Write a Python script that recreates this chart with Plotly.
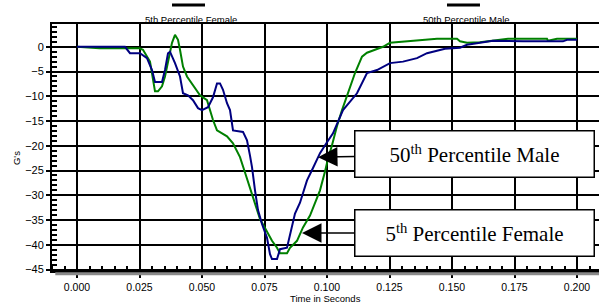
import plotly.graph_objects as go

# ---- data ----
time_female = [0.000, 0.009, 0.025, 0.0264, 0.0292, 0.0304, 0.0312, 0.0324, 0.034, 0.0352, 0.0364,
               0.038, 0.0392, 0.0404, 0.0412, 0.0424, 0.044, 0.046, 0.048, 0.0492, 0.052, 0.0532,
               0.0544, 0.056, 0.058, 0.060, 0.0624, 0.0652, 0.0672, 0.0692, 0.0712, 0.0732, 0.0752,
               0.078, 0.080, 0.0812, 0.084, 0.0852, 0.088, 0.0904, 0.0932, 0.0956, 0.0972, 0.0992,
               0.1004, 0.102, 0.104, 0.106, 0.1084, 0.1112, 0.114, 0.116, 0.1192, 0.1224, 0.1252,
               0.1292, 0.1372, 0.144, 0.152, 0.1532, 0.156, 0.1612, 0.1724, 0.188, 0.1884, 0.192, 0.200]
g_female = [0.0, -0.3, -0.3, -0.6, -3.0, -6.7, -9.0, -9.0, -8.0, -6.0, -3.3,
            0.8, 2.4, 1.4, -0.6, -4.0, -6.0, -7.4, -9.0, -9.8, -10.8, -13.0,
            -14.8, -16.9, -17.5, -18.1, -19.5, -22.3, -25.4, -28.4, -31.8, -34.8, -36.6,
            -39.2, -40.6, -41.7, -41.7, -40.6, -39.2, -36.5, -34.1, -31.0, -29.0, -25.2,
            -22.6, -19.9, -16.0, -12.8, -9.4, -5.3, -2.0, -1.2, -0.6, 0.0, 0.8,
            1.0, 1.3, 1.6, 1.6, 1.1, 0.8, 0.9, 1.6, 1.6, 1.2, 1.6, 1.6]

time_male = [0.000, 0.0192, 0.0212, 0.0252, 0.028, 0.030, 0.0312, 0.034, 0.0352, 0.0364, 0.0372,
             0.0392, 0.0412, 0.0424, 0.0444, 0.0464, 0.0484, 0.050, 0.0524, 0.0544, 0.056, 0.0572,
             0.0584, 0.060, 0.0612, 0.0624, 0.0664, 0.068, 0.0692, 0.070, 0.0712, 0.0724, 0.074,
             0.076, 0.0772, 0.078, 0.080, 0.0812, 0.084, 0.0852, 0.0872, 0.0892, 0.092, 0.0944,
             0.0972, 0.100, 0.1024, 0.1064, 0.112, 0.116, 0.120, 0.1252, 0.1304, 0.136, 0.140,
             0.144, 0.1472, 0.1532, 0.156, 0.1612, 0.1664, 0.1784, 0.1944, 0.196, 0.200]
g_male = [0.0, 0.0, -1.3, -1.3, -2.3, -4.7, -7.1, -7.1, -4.7, -1.3, -1.0,
          -3.3, -6.0, -9.4, -9.8, -10.8, -12.4, -12.8, -12.2, -10.2, -7.4, -7.4,
          -8.7, -11.4, -12.8, -16.9, -17.2, -18.9, -22.0, -24.3, -29.0, -33.0, -35.8,
          -38.6, -41.9, -42.9, -42.9, -40.9, -40.6, -37.8, -33.7, -31.5, -27.0, -24.5,
          -21.5, -19.3, -17.5, -12.8, -9.4, -5.3, -4.7, -3.3, -3.0, -2.3, -1.3,
          -0.8, -0.4, -0.2, 0.4, 0.8, 1.2, 1.1, 1.1, 1.4, 1.4]

x_ticks = [0.000, 0.025, 0.050, 0.075, 0.100, 0.125, 0.150, 0.175, 0.200]
y_ticks = [0, -5, -10, -15, -20, -25, -30, -35, -40, -45]

label_female = "5th Percentile Female"
label_male = "50th Percentile Male"
box_female = "5<sup>th</sup> Percentile Female"
box_male = "50<sup>th</sup> Percentile Male"

# ---- figure ----
fig = go.Figure()
fig.add_trace(go.Scatter(x=time_female, y=g_female, mode="lines", name=label_female,
                         line=dict(color="#008000", width=2)))
fig.add_trace(go.Scatter(x=time_male, y=g_male, mode="lines", name=label_male,
                         line=dict(color="#000080", width=2)))

sans = "Liberation Sans, Arial, sans-serif"
serif = "Liberation Serif, Times New Roman, serif"

fig.update_layout(
    width=599, height=305,
    margin=dict(l=52, r=0, t=24, b=34, autoexpand=False),
    paper_bgcolor="white", plot_bgcolor="white",
    showlegend=False,
    font=dict(family=sans, size=11, color="black"),
)

fig.update_xaxes(
    range=[-0.01, 0.2088], automargin=False,
    tickvals=x_ticks, tickformat=".3f",
    showgrid=True, gridcolor="black", gridwidth=2,
    showline=True, linecolor="black", linewidth=2, mirror=True,
    ticks="outside", ticklen=5, tickwidth=2, tickcolor="black",
    tickfont=dict(family=sans, size=10.5),
    minor=dict(dtick=0.005, tick0=0, ticks="inside", ticklen=5, tickwidth=1.5,
               tickcolor="black", showgrid=False),
    zeroline=False,
)
fig.update_yaxes(
    range=[-45.3, 4.6], automargin=False,
    tickvals=y_ticks,
    showgrid=True, gridcolor="black", gridwidth=2,
    showline=True, linecolor="black", linewidth=2,
    ticks="outside", ticklen=4, tickwidth=2, tickcolor="black",
    tickfont=dict(family=sans, size=11),
    minor=dict(dtick=1, tick0=0, ticks="inside", ticklen=5, tickwidth=1.5,
               tickcolor="black", showgrid=False),
    zeroline=False,
)

# gray shadow under the x axis
fig.add_shape(type="line", xref="paper", yref="paper", x0=0.006, x1=1, y0=-0.011, y1=-0.011,
              line=dict(color="#8a8a8a", width=3))

# top "legend" entries (black bars above labels)
for x0, x1, xc, txt in [(0.2194, 0.2797, 0.2532, label_female), (0.7221, 0.7824, 0.7569, label_male)]:
    fig.add_shape(type="line", xref="paper", yref="paper", x0=x0, x1=x1, y0=1.077, y1=1.077,
                  line=dict(color="black", width=3))
    fig.add_annotation(xref="paper", yref="paper", x=xc, y=1.02, text=txt, showarrow=False,
                       font=dict(family=sans, size=9.5, color="black"), xanchor="center", yanchor="middle")

# axis titles
fig.add_annotation(xref="paper", yref="paper", x=0.5, y=-0.112, text="Time in Seconds",
                   showarrow=False, font=dict(family=sans, size=9.5), xanchor="center", yanchor="middle")
fig.add_annotation(xref="paper", yref="paper", x=-0.066, y=0.457, text="G's", textangle=-90,
                   showarrow=False, font=dict(family=sans, size=9.5), xanchor="center", yanchor="middle")

# boxed labels with arrows
for tipx, tipy, boxy, txt in [(0.0964, -22.3, -21.7, box_male), (0.0900, -37.6, -37.6, box_female)]:
    fig.add_annotation(x=tipx, y=tipy, xref="x", yref="y", ax=0.159, ay=boxy, axref="x", ayref="y",
                       text=txt, showarrow=True, arrowhead=2, arrowsize=2.6, arrowwidth=1.5,
                       arrowcolor="black", bgcolor="white", bordercolor="black", borderwidth=1.5,
                       borderpad=0, width=238, height=45,
                       font=dict(family=serif, size=21, color="black"))

fig.write_html("out.html", config={"displayModeBar": False},
               post_script="document.body.style.margin='0';document.body.style.overflow='hidden';")
